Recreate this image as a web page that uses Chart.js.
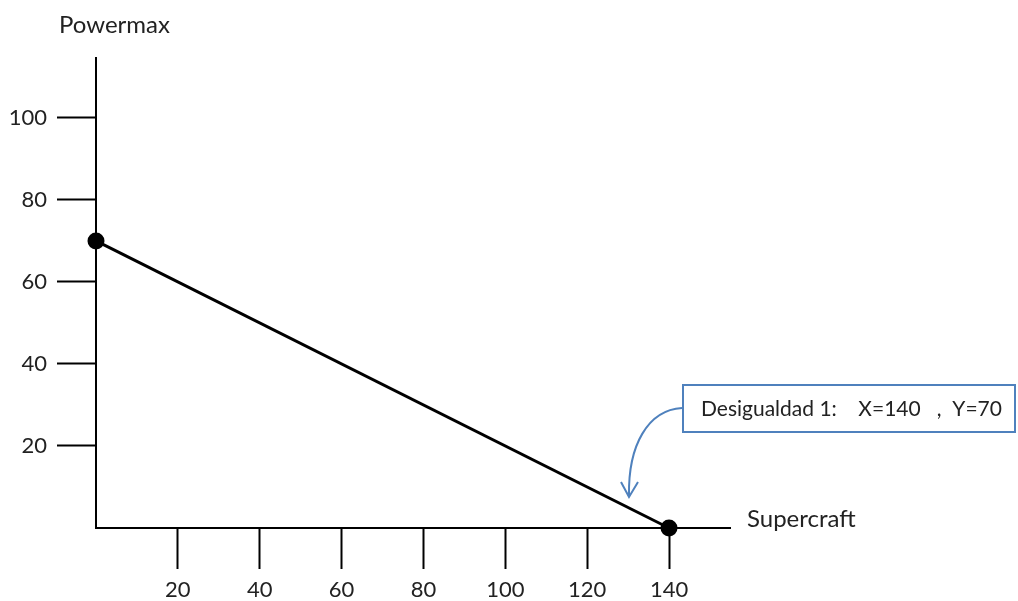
<!DOCTYPE html>
<html>
<head>
<meta charset="utf-8">
<script src="https://cdn.jsdelivr.net/npm/chart.js@4/dist/chart.umd.min.js"></script>
<style>
html,body{margin:0;padding:0;background:#fff;}
#wrap{width:1018px;height:601px;}
</style>
</head>
<body>
<div id="wrap"><canvas id="c" width="1018" height="601"></canvas></div>
<script>
// Data
const xValues = [0, 140];
const yValues = [70, 0];
const xTickValues = [20, 40, 60, 80, 100, 120, 140];
const yTickValues = [20, 40, 60, 80, 100];
const xAxisTitle = 'Supercraft';
const yAxisTitle = 'Powermax';
const noteText = 'Desigualdad 1:    X=140   ,  Y=70';

const points = xValues.map((x, i) => ({x: x, y: yValues[i]}));
const FONT = 'Lato';

const labelsPlugin = {
  id: 'labels',
  afterDraw(chart) {
    const ctx = chart.ctx;
    const area = chart.chartArea;
    ctx.save();
    ctx.fillStyle = '#222';
    ctx.font = '24px ' + FONT;
    ctx.textBaseline = 'alphabetic';
    ctx.textAlign = 'left';
    ctx.fillText(yAxisTitle, 59, 33);
    ctx.fillText(xAxisTitle, area.right + 17, 527);

    // annotation box
    ctx.strokeStyle = '#4F81BD';
    ctx.lineWidth = 2;
    ctx.fillStyle = '#fff';
    ctx.fillRect(683, 385, 332, 47);
    ctx.strokeRect(683, 385, 332, 47);
    ctx.fillStyle = '#222';
    ctx.font = '21px ' + FONT;
    ctx.textBaseline = 'middle';
    ctx.fillText(noteText, 701, 409);

    // curved arrow
    ctx.beginPath();
    ctx.moveTo(682, 408);
    ctx.bezierCurveTo(648, 410, 628, 445, 629, 496);
    ctx.stroke();
    ctx.beginPath();
    ctx.moveTo(621, 482);
    ctx.lineTo(629, 497);
    ctx.lineTo(638, 482);
    ctx.stroke();
    ctx.restore();
  }
};

new Chart(document.getElementById('c'), {
  type: 'scatter',
  data: {
    datasets: [{
      data: points,
      showLine: true,
      borderColor: '#000',
      borderWidth: 3,
      backgroundColor: '#000',
      pointRadius: 7,
      pointHoverRadius: 7,
      clip: false
    }]
  },
  options: {
    responsive: false,
    animation: false,
    devicePixelRatio: 1,
    layout: {padding: {left: 0, top: 58, right: 288, bottom: 0}},
    plugins: {legend: {display: false}, tooltip: {enabled: false}},
    scales: {
      x: {
        type: 'linear',
        min: 0,
        max: 154.9,
        afterBuildTicks(scale) { scale.ticks = xTickValues.map(v => ({value: v})); },
        afterFit(scale) { scale.height = 73; },
        border: {display: true, color: '#000', width: 2},
        grid: {drawOnChartArea: false, drawTicks: true, tickLength: 41, tickWidth: 2, tickColor: '#000'},
        ticks: {color: '#222', font: {family: FONT, size: 22}, padding: 8, maxRotation: 0, autoSkip: false}
      },
      y: {
        type: 'linear',
        min: 0,
        max: 114.6,
        afterBuildTicks(scale) { scale.ticks = yTickValues.map(v => ({value: v})); },
        afterFit(scale) { scale.width = 96; },
        border: {display: true, color: '#000', width: 2},
        grid: {drawOnChartArea: false, drawTicks: true, tickLength: 39, tickWidth: 2, tickColor: '#000'},
        ticks: {color: '#222', font: {family: FONT, size: 22}, padding: 10, autoSkip: false}
      }
    }
  },
  plugins: [labelsPlugin]
});
</script>
</body>
</html>
